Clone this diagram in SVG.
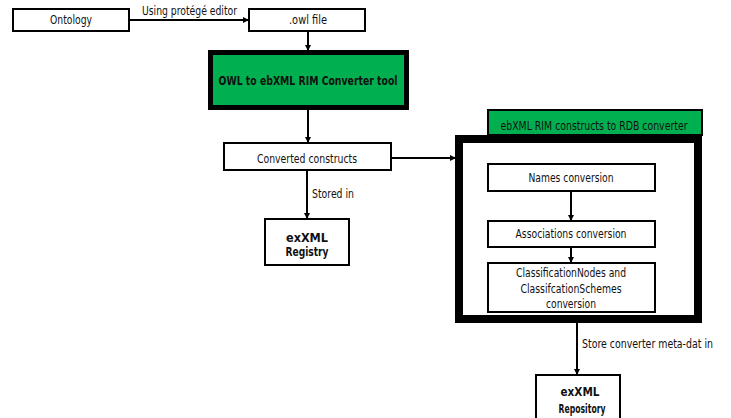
<svg xmlns="http://www.w3.org/2000/svg" width="731" height="418" viewBox="0 0 731 418">
<defs>
<marker id="ah" markerWidth="6" markerHeight="6" refX="5" refY="3" orient="auto" markerUnits="userSpaceOnUse">
<path d="M0,0 L6,3 L0,6 Z" fill="#000"/>
</marker>
<style>
text{font-family:"DejaVu Sans Condensed","DejaVu Sans",sans-serif;font-size:12px;fill:#111;text-anchor:middle}
.b{font-weight:bold}
.l{text-anchor:start}
.box{fill:#fff;stroke:#000;stroke-width:2}
.edge{stroke:#000;stroke-width:2;fill:none;marker-end:url(#ah)}
</style>
</defs>
<rect width="731" height="418" fill="#fff"/>
<g id="ontology">
<rect class="box" x="13" y="9" width="116" height="22"/>
<text x="71" y="24" textLength="42" lengthAdjust="spacingAndGlyphs">Ontology</text>
</g>
<g id="owl-file">
<rect class="box" x="249" y="9" width="116" height="22"/>
<text x="308" y="24" textLength="38" lengthAdjust="spacingAndGlyphs">.owl file</text>
</g>
<g id="owl-converter">
<rect x="210.5" y="52.5" width="196" height="55" fill="#00b050" stroke="#000" stroke-width="5"/>
<text class="b" x="308" y="85" textLength="179" lengthAdjust="spacingAndGlyphs">OWL to ebXML RIM Converter tool</text>
</g>
<g id="converted-constructs">
<rect class="box" x="224" y="143" width="167" height="27"/>
<text x="307" y="163" textLength="100" lengthAdjust="spacingAndGlyphs">Converted constructs</text>
</g>
<g id="exxml-registry">
<rect class="box" x="265" y="219" width="84" height="46"/>
<text class="b" x="307" y="242" textLength="42" lengthAdjust="spacingAndGlyphs">exXML</text>
<text class="b" x="307" y="256" textLength="43" lengthAdjust="spacingAndGlyphs">Registry</text>
</g>
<g id="rdb-converter">
<rect x="488" y="110" width="214" height="25" fill="#00b050" stroke="#000" stroke-width="2"/>
<text x="594" y="130" textLength="187" lengthAdjust="spacingAndGlyphs">ebXML RIM constructs to RDB converter</text>
<rect x="459" y="139" width="239" height="180" fill="#fff" stroke="#000" stroke-width="8"/>
</g>
<g id="names-conversion">
<rect class="box" x="488" y="164" width="167" height="27"/>
<text x="571" y="182" textLength="85" lengthAdjust="spacingAndGlyphs">Names conversion</text>
</g>
<g id="associations-conversion">
<rect class="box" x="488" y="221" width="167" height="26"/>
<text x="571" y="238" textLength="111" lengthAdjust="spacingAndGlyphs">Associations conversion</text>
</g>
<g id="classification-conversion">
<rect class="box" x="488" y="263" width="167" height="49"/>
<text x="571" y="277" textLength="110" lengthAdjust="spacingAndGlyphs">ClassificationNodes and</text>
<text x="571" y="293" textLength="101" lengthAdjust="spacingAndGlyphs">ClassifcationSchemes</text>
<text x="571" y="308" textLength="50" lengthAdjust="spacingAndGlyphs">conversion</text>
</g>
<g id="exxml-repository">
<rect class="box" x="536" y="375" width="84" height="50"/>
<text class="b" x="580" y="396" textLength="39" lengthAdjust="spacingAndGlyphs">exXML</text>
<text class="b" x="582" y="413" textLength="47" lengthAdjust="spacingAndGlyphs">Repository</text>
</g>
<g id="connectors">
<path class="edge" d="M129,20 H248"/>
<text class="l" x="142" y="15" textLength="95" lengthAdjust="spacingAndGlyphs">Using protégé editor</text>
<path class="edge" d="M308,31 V50"/>
<path class="edge" d="M308,110 V142"/>
<path class="edge" d="M391,158 H455"/>
<path class="edge" d="M307,170 V218"/>
<text class="l" x="312" y="198" textLength="42" lengthAdjust="spacingAndGlyphs">Stored in</text>
<path class="edge" d="M571,191 V220"/>
<path class="edge" d="M571,247 V262"/>
<path class="edge" d="M577,323 V374"/>
<text class="l" x="582" y="348" textLength="131" lengthAdjust="spacingAndGlyphs">Store converter meta-dat in</text>
</g>
</svg>
